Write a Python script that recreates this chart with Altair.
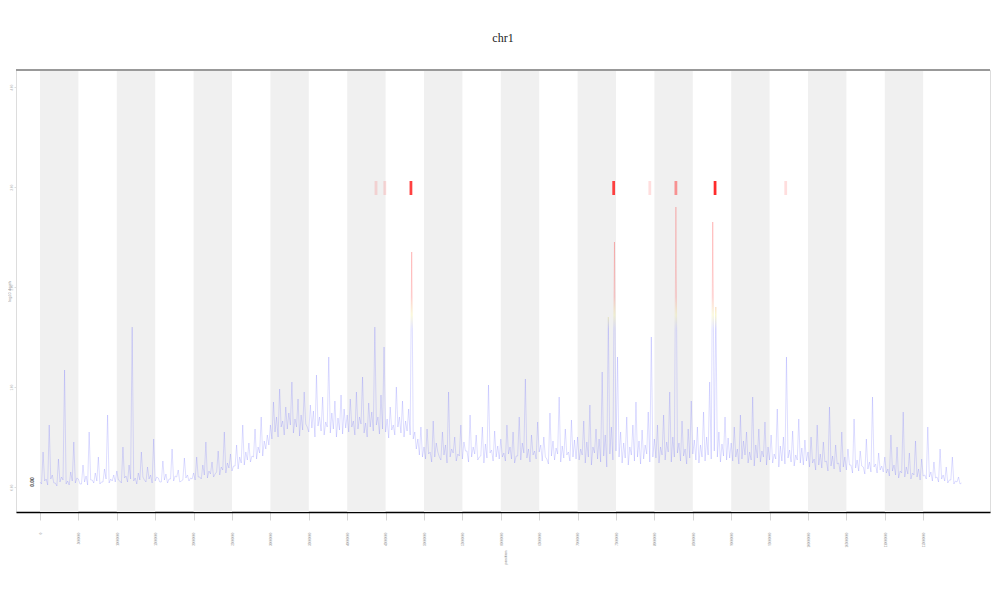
import altair as alt
import pandas as pd

title_text = "chr1"
x_title = "position"
y_title = "log10 depth"

# coverage sampled on a regular grid (Mb): a local peak and a local trough per step
x_start = 0.0
x_step = 0.4
peak = [
    0.05, 0.35, 0.08, 0.62, 0.12, 0.04, 0.28, 0.10, 1.17, 0.06, 0.15, 0.45, 0.09, 0.03, 0.22, 0.11, 0.55, 0.07, 0.14, 0.30, 0.05, 0.18, 0.72, 0.08, 0.12,
    0.16, 0.06, 0.40, 0.11, 0.22, 1.60, 0.09, 0.14, 0.35, 0.07, 0.20, 0.12, 0.48, 0.10, 0.05, 0.26, 0.13, 0.08, 0.38, 0.11, 0.17, 0.06, 0.29, 0.12, 0.09,
    0.14, 0.30, 0.10, 0.22, 0.45, 0.16, 0.25, 0.13, 0.36, 0.20, 0.55, 0.24, 0.33, 0.21, 0.42, 0.30, 0.62, 0.35, 0.44, 0.31, 0.58, 0.40, 0.70, 0.46, 0.52,
    0.62, 0.85, 0.70, 0.98, 0.66, 0.80, 0.74, 1.05, 0.68, 0.88, 0.72, 0.95, 0.60, 0.82, 0.76, 1.12, 0.70, 0.90, 0.65, 1.30, 0.74, 0.86, 0.69, 0.92, 0.78,
    0.72, 0.88, 0.66, 0.95, 0.70, 1.10, 0.64, 0.84, 0.75, 1.60, 0.70, 0.92, 1.40, 0.68, 0.80, 0.62, 1.00, 0.70, 0.86, 0.66, 0.78, 2.35, 0.55, 0.48, 0.60,
    0.40, 0.58, 0.35, 0.66, 0.44, 0.30, 0.55, 0.42, 0.95, 0.38, 0.50, 0.33, 0.62, 0.45, 0.36, 0.72, 0.40, 0.52, 0.30, 0.60, 0.43, 1.02, 0.37, 0.56, 0.41,
    0.48, 0.34, 0.62, 0.40, 0.55, 0.31, 0.70, 0.44, 1.08, 0.38, 0.52, 0.36, 0.65, 0.42, 0.50, 0.28, 0.74, 0.46, 0.39, 0.90, 0.41, 0.58, 0.35, 0.67, 0.47,
    0.50, 0.38, 0.66, 0.45, 0.82, 0.40, 0.58, 0.48, 1.15, 0.52, 1.70, 0.60, 2.45, 1.30, 0.55, 0.44, 0.70, 0.40, 0.62, 0.85, 0.46, 0.57, 0.42, 0.75, 1.50,
    0.48, 0.62, 0.40, 0.72, 0.45, 0.95, 0.50, 2.80, 0.44, 0.66, 0.38, 0.58, 0.86, 0.47, 0.60, 0.42, 0.75, 0.50, 1.05, 2.65, 1.80, 0.55, 0.43, 0.70, 0.49,
    0.44, 0.60, 0.38, 0.72, 0.46, 0.55, 0.35, 0.90, 0.42, 0.58, 0.36, 0.65, 0.40, 0.52, 0.33, 0.78, 0.41, 0.50, 1.30, 0.37, 0.56, 0.32, 0.68, 0.39, 0.47,
    0.35, 0.50, 0.28, 0.62, 0.33, 0.45, 0.26, 0.80, 0.31, 0.42, 0.24, 0.55, 0.30, 0.38, 0.22, 0.68, 0.27, 0.36, 0.20, 0.48, 0.25, 0.90, 0.23, 0.34, 0.21,
    0.30, 0.18, 0.52, 0.22, 0.40, 0.16, 0.75, 0.20, 0.34, 0.14, 0.46, 0.18, 0.28, 0.12, 0.60, 0.15, 0.25, 0.10, 0.38, 0.12, 0.20, 0.07, 0.30, 0.06, 0.10,
    0.04,
]
trough = [
    0.03, 0.06, 0.02, 0.08, 0.04, 0.01, 0.05, 0.07, 0.03, 0.02, 0.06, 0.04, 0.08, 0.03, 0.05, 0.02, 0.07, 0.04, 0.06, 0.03, 0.05, 0.08, 0.04, 0.06, 0.05,
    0.07, 0.04, 0.09, 0.05, 0.08, 0.06, 0.03, 0.07, 0.10, 0.05, 0.08, 0.04, 0.06, 0.09, 0.05, 0.07, 0.04, 0.08, 0.06, 0.10, 0.05, 0.07, 0.09, 0.06, 0.08,
    0.07, 0.10, 0.08, 0.12, 0.09, 0.13, 0.10, 0.15, 0.12, 0.17, 0.14, 0.19, 0.16, 0.21, 0.18, 0.24, 0.22, 0.27, 0.25, 0.30, 0.28, 0.34, 0.31, 0.38, 0.42,
    0.48, 0.55, 0.50, 0.60, 0.52, 0.58, 0.62, 0.54, 0.60, 0.51, 0.57, 0.63, 0.55, 0.59, 0.50, 0.61, 0.56, 0.52, 0.60, 0.54, 0.58, 0.50, 0.57, 0.53, 0.59,
    0.55, 0.60, 0.52, 0.58, 0.63, 0.54, 0.50, 0.60, 0.56, 0.62, 0.53, 0.58, 0.55, 0.49, 0.57, 0.52, 0.60, 0.54, 0.50, 0.56, 0.52, 0.48, 0.38, 0.32, 0.30,
    0.28, 0.33, 0.25, 0.30, 0.35, 0.27, 0.32, 0.24, 0.30, 0.34, 0.26, 0.31, 0.28, 0.36, 0.25, 0.30, 0.33, 0.27, 0.31, 0.24, 0.29, 0.34, 0.26, 0.30, 0.28,
    0.30, 0.26, 0.33, 0.28, 0.24, 0.31, 0.27, 0.34, 0.29, 0.25, 0.32, 0.28, 0.35, 0.26, 0.30, 0.23, 0.31, 0.27, 0.33, 0.25, 0.29, 0.32, 0.26, 0.30, 0.28,
    0.27, 0.32, 0.24, 0.30, 0.22, 0.34, 0.28, 0.25, 0.31, 0.20, 0.33, 0.27, 0.36, 0.30, 0.24, 0.29, 0.22, 0.32, 0.26, 0.30, 0.23, 0.28, 0.33, 0.25, 0.30,
    0.29, 0.24, 0.32, 0.27, 0.35, 0.25, 0.30, 0.34, 0.26, 0.31, 0.23, 0.29, 0.33, 0.27, 0.24, 0.30, 0.26, 0.32, 0.28, 0.36, 0.30, 0.25, 0.31, 0.27, 0.29,
    0.26, 0.30, 0.23, 0.28, 0.32, 0.24, 0.27, 0.21, 0.29, 0.25, 0.30, 0.22, 0.27, 0.24, 0.28, 0.20, 0.26, 0.23, 0.29, 0.25, 0.21, 0.27, 0.24, 0.22, 0.26,
    0.20, 0.24, 0.17, 0.22, 0.19, 0.25, 0.16, 0.21, 0.18, 0.23, 0.15, 0.20, 0.17, 0.22, 0.14, 0.19, 0.16, 0.21, 0.13, 0.18, 0.15, 0.20, 0.14, 0.17, 0.15,
    0.14, 0.11, 0.16, 0.12, 0.09, 0.14, 0.10, 0.13, 0.08, 0.12, 0.10, 0.07, 0.11, 0.08, 0.10, 0.06, 0.09, 0.05, 0.08, 0.06, 0.04, 0.07, 0.03, 0.05, 0.03,
]

# alternating shaded bins
band_starts = [0, 10, 20, 30, 40, 50, 60, 70, 80, 90, 100, 110]
band_width = 5

# positions whose depth exceeds the plotted range (and how often)
clip_pos = [43.75, 44.9, 48.3, 74.7, 79.4, 82.8, 87.9, 97.1]
clip_count = [1, 1, 8, 8, 1, 4, 9, 1]

x_ticks = list(range(0, 120, 5))
y_ticks = [0, 1, 2, 3, 4]

W, H = 974, 442
xscale = alt.Scale(domain=[-3.125, 123.70], nice=False, zero=False)
yscale = alt.Scale(domain=[-0.25, 4.17], nice=False, zero=False)

xaxis = alt.Axis(values=x_ticks, labelExpr="format(datum.value*1000000, 'd')",
                 labelAngle=270, labelFontSize=3, labelColor="#888", labelPadding=12,
                 tickSize=8, tickColor="#bbb", tickWidth=0.6, domainColor="#000", domainWidth=1.6,
                 grid=False, title=x_title, titleFontSize=4, titleColor="#777",
                 titleFontWeight="normal", titlePadding=10, titleAngle=270)
yaxis = alt.Axis(values=y_ticks, format=".2f", labelAngle=270, labelFontSize=3,
                 labelColor="#aaa", tickSize=2, tickColor="#ddd", domain=False, grid=False,
                 labelPadding=1, title=y_title, titleFontSize=4, titleColor="#999",
                 titleFontWeight="normal", titleX=-7, titleY=H / 2, titleAngle=270,
                 titleAlign="center", titleBaseline="middle")

# interleave peaks and troughs along the grid
xs, ys = [], []
for i, p in enumerate(peak):
    xs.append(x_start + i * x_step)
    ys.append(p)
    if i < len(trough):
        xs.append(x_start + i * x_step + x_step / 2)
        ys.append(trough[i])
df = pd.DataFrame({"pos": xs, "depth": ys})
bands = pd.DataFrame({"pos": band_starts, "pos2": [b + band_width for b in band_starts]})
clips = pd.DataFrame({"pos": [p - 0.18 for p in clip_pos], "pos2": [p + 0.18 for p in clip_pos],
                      "count": clip_count, "ylo": 2.92, "yhi": 3.06})

vmin, vmax = min(ys), max(ys)
def off(v):
    return max(0.0, min(1.0, (v - vmin) / (vmax - vmin)))

grad = alt.Gradient(gradient="linear", x1=0, x2=0, y1=1, y2=0, stops=[
    alt.GradientStop(color="#5a5aff", offset=0),
    alt.GradientStop(color="#5a5aff", offset=off(1.58)),
    alt.GradientStop(color="#e6e040", offset=off(1.72)),
    alt.GradientStop(color="#ff2a2a", offset=off(1.9)),
    alt.GradientStop(color="#ff2020", offset=1),
])

band_layer = alt.Chart(bands).mark_rect(color="#f0f0f0").encode(
    x=alt.X("pos:Q", scale=xscale, axis=xaxis), x2="pos2:Q",
    y=alt.value(0), y2=alt.value(H))

clip_layer = alt.Chart(clips).mark_rect(color="#ff2020").encode(
    x=alt.X("pos:Q", scale=xscale, axis=xaxis), x2="pos2:Q",
    y=alt.Y("ylo:Q", scale=yscale, axis=yaxis), y2="yhi:Q",
    opacity=alt.Opacity("count:Q", scale=alt.Scale(domain=[0, 9], range=[0.05, 0.95]), legend=None))

line_layer = alt.Chart(df).mark_line(stroke=grad, strokeWidth=0.5, opacity=0.4).encode(
    x=alt.X("pos:Q", scale=xscale, axis=xaxis),
    y=alt.Y("depth:Q", scale=yscale, axis=yaxis))

top_rule = alt.Chart(df).mark_rule(color="#999999", strokeWidth=2).encode(y=alt.value(0))

label_layer = alt.Chart(pd.DataFrame({"pos": [-1.1], "depth": [0.05], "t": ["0.00"]})).mark_text(
    angle=270, fontSize=5, fontWeight="bold", color="#444").encode(
    x=alt.X("pos:Q", scale=xscale, axis=xaxis),
    y=alt.Y("depth:Q", scale=yscale, axis=yaxis), text="t:N")

chart = alt.layer(band_layer, clip_layer, line_layer, top_rule, label_layer).properties(
    width=W, height=H,
    title=alt.TitleParams(title_text, fontSize=12, font="Liberation Sans Narrow", color="#222",
                          fontWeight="normal", offset=24, anchor="middle"),
    autosize=alt.AutoSizeParams(type="none"),
    padding={"left": 8, "top": 62, "right": 2, "bottom": 80},
).configure_view(stroke=None).configure(font="Liberation Sans")

chart.save("out.html", embed_options={"renderer": "svg", "actions": False})
